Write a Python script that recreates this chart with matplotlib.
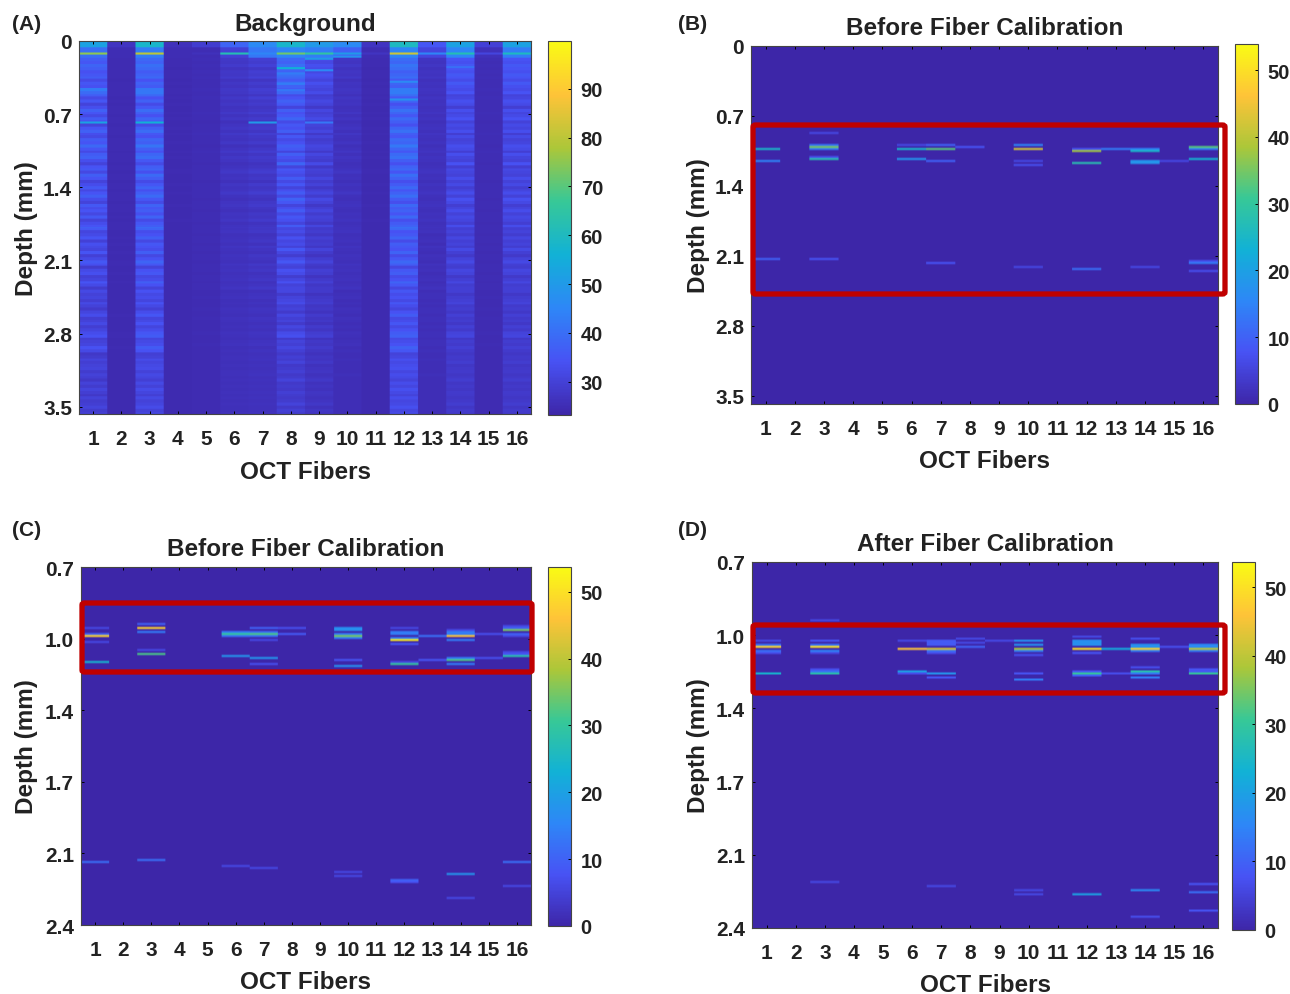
import numpy as np
import matplotlib
matplotlib.use("Agg")
import matplotlib.pyplot as plt
from matplotlib.colors import LinearSegmentedColormap
from matplotlib.patches import FancyBboxPatch

plt.rcParams['font.family'] = ['Liberation Sans', 'DejaVu Sans']
W, H = 1290, 995

parula = LinearSegmentedColormap.from_list('parula', [
    (0.2422, 0.1504, 0.6603), (0.2810, 0.3228, 0.9579), (0.1786, 0.5289, 0.9682),
    (0.0689, 0.6948, 0.8394), (0.2161, 0.7843, 0.5923), (0.6720, 0.7793, 0.2227),
    (0.9970, 0.7659, 0.2199), (0.9769, 0.9839, 0.0805)])

fibers = list(range(1, 17))

# ---------- Panel A: background, per fiber levels and stripe profiles ----------
a_base = [26.5, 24.5, 28, 24.5, 24.8, 25.3, 25.3, 26.5, 25.5, 25, 24.5, 29, 25, 26.5, 24.8, 26.5]
a_amp = [13, 0.4, 14, 0.4, 0.8, 4, 6, 14, 8, 3.5, 0.4, 14, 3, 9, 0.8, 9]
a_group = [0, 0, 0, 2, 2, 2, 2, 1, 1, 2, 2, 0, 2, 1, 2, 1]
a_fade = [1.0, 0.95, 0.9, 0.8, 0.65, 0.5]
stripes_a = [7, 6, 8, 7, 5, 6, 7, 4, 6, 5, 9, 9, 7, 4, 6, 3, 5, 8, 6, 4, 7, 5, 3, 6, 8, 5, 4, 7, 6, 9,
             6, 4, 7, 8, 5, 3, 6, 7, 4, 8, 6, 3, 5, 7, 4, 6, 8, 5, 3, 7, 5, 6, 4, 7, 3, 5, 6, 8, 4, 5,
             7, 3, 6, 5, 4, 7, 3, 5, 8, 6, 2, 5, 6, 3, 4, 7, 5, 2, 6, 4, 5, 3, 6, 4, 2, 5, 7, 3, 4, 6,
             3, 5, 7, 8, 3, 4, 5, 8, 6, 2, 3, 6, 4, 5, 6, 3, 5, 4, 2, 5, 3, 6, 4, 2, 5, 3, 4, 6, 3, 4]
stripes_b = [8, 7, 9, 8, 7, 9, 8, 6, 9, 7, 6, 8, 4, 5, 7, 6, 3, 7, 5, 6, 8, 4, 6, 5, 7, 3, 6, 4, 5, 7,
             6, 3, 7, 5, 4, 8, 3, 6, 5, 4, 7, 4, 6, 3, 5, 7, 4, 8, 6, 3, 5, 7, 4, 6, 5, 3, 7, 4, 5, 3,
             6, 4, 5, 3, 7, 4, 2, 5, 7, 4, 3, 6, 5, 2, 4, 6, 3, 4, 5, 2, 4, 5, 6, 3, 4, 2, 5, 3, 4, 2,
             5, 3, 6, 7, 2, 4, 3, 5, 3, 2, 4, 3, 5, 2, 3, 4, 2, 3, 5, 2, 3, 2, 4, 3, 2, 3, 5, 2, 4, 3]
stripes_c = [6, 5, 7, 4, 6, 5, 7, 3, 5, 4, 6, 5, 3, 6, 4, 5, 3, 4, 6, 3, 5, 2, 4, 5, 3, 6, 4, 3, 5, 2,
             4, 6, 3, 5, 4, 2, 3, 5, 6, 3, 4, 2, 5, 3, 4, 6, 3, 2, 4, 5, 3, 2, 4, 3, 5, 2, 3, 4, 5, 2,
             3, 4, 2, 5, 3, 2, 4, 3, 2, 5, 3, 4, 2, 3, 4, 2, 3, 5, 2, 3, 4, 2, 3, 2, 4, 3, 2, 4, 3, 2,
             3, 2, 4, 3, 2, 3, 4, 2, 3, 2, 3, 4, 2, 3, 2, 3, 4, 2, 3, 2, 3, 2, 3, 2, 3, 2, 3, 2, 2, 3]
a_top = [52, 27, 58, 26, 29, 38, 46, 58, 50, 46, 27, 60, 35, 52, 30, 52]
a_second = [40, 25, 43, 25, 25, 30, 42, 45, 43, 37, 25, 45, 31, 45, 26, 43]
a_line = [75, 25, 80, 25, 26, 62, 45, 72, 65, 50, 27, 82, 45, 62, 31, 60]
a_extra = [(1, 0.45, 43), (1, 0.47, 43), (1, 0.77, 52), (3, 0.77, 56), (7, 0.77, 50), (9, 0.77, 42),
           (8, 0.25, 56), (9, 0.275, 46), (14, 0.24, 40), (12, 0.55, 48), (12, 0.38, 46),
           (8, 0.30, 43), (8, 0.40, 43), (8, 0.47, 42), (10, 0.14, 48), (9, 0.16, 50)]

# ---------- Panels B, C, D: (fiber, depth in mm, intensity) ----------
b_bands = [(1, 1.037, 25), (1, 1.16, 15), (1, 2.13, 10),
           (3, 0.87, 6), (3, 0.99, 13), (3, 1.005, 35), (3, 1.02, 14), (3, 1.11, 7), (3, 1.127, 28), (3, 2.13, 8),
           (6, 0.99, 6), (6, 1.023, 25), (6, 1.137, 18),
           (7, 0.995, 10), (7, 1.02, 33), (7, 1.147, 10), (7, 2.167, 8), (8, 1.017, 8),
           (10, 0.997, 15), (10, 1.03, 42), (10, 1.16, 6), (10, 1.187, 7), (10, 2.21, 6),
           (12, 1.02, 8), (12, 1.04, 14), (12, 1.057, 38), (12, 1.177, 28), (12, 2.227, 12), (13, 1.03, 14),
           (14, 1.025, 15), (14, 1.04, 25), (14, 1.05, 15), (14, 1.15, 18), (14, 1.165, 18), (14, 2.2, 6), (15, 1.147, 6),
           (16, 1.005, 33), (16, 1.02, 14), (16, 1.13, 24), (16, 2.14, 7), (16, 2.167, 14), (16, 2.26, 7)]
c_bands = [(1, 0.994, 6), (1, 1.029, 48), (1, 1.015, 10), (1, 1.053, 6), (1, 1.15, 24),
           (3, 0.967, 10), (3, 0.975, 10), (3, 0.994, 48), (3, 1.01, 14), (3, 1.093, 6), (3, 1.116, 32), (3, 2.087, 12),
           (6, 1.007, 14), (6, 1.017, 30), (6, 1.027, 12), (6, 1.127, 18), (6, 2.12, 6),
           (7, 0.991, 10), (7, 1.004, 12), (7, 1.017, 32), (7, 1.029, 12), (7, 1.042, 6), (7, 1.135, 18), (7, 1.156, 7), (7, 2.125, 6),
           (8, 0.986, 7), (8, 1.017, 9),
           (10, 0.99, 17), (10, 1.0, 17), (10, 1.018, 14), (10, 1.026, 35), (10, 1.036, 14), (10, 1.143, 8), (10, 1.17, 17), (10, 2.144, 6), (10, 2.17, 6),
           (12, 0.99, 6), (12, 1.012, 14), (12, 1.022, 14), (12, 1.034, 14), (12, 1.045, 52), (12, 1.067, 8), (12, 1.15, 6), (12, 1.165, 30), (12, 2.186, 10), (12, 2.195, 8),
           (13, 1.029, 12), (13, 1.143, 8),
           (14, 0.998, 6), (14, 1.01, 14), (14, 1.02, 14), (14, 1.029, 46), (14, 1.045, 14), (14, 1.133, 14), (14, 1.146, 32), (14, 1.16, 14), (14, 2.158, 18), (14, 2.27, 6),
           (15, 1.017, 7), (15, 1.136, 7),
           (16, 0.98, 6), (16, 0.99, 10), (16, 1.002, 35), (16, 1.018, 10), (16, 1.03, 6), (16, 1.1, 6), (16, 1.11, 8), (16, 1.123, 28), (16, 2.1, 12), (16, 2.215, 6),
           (1, 2.097, 12)]
d_bands = [(1, 1.062, 6), (1, 1.085, 12), (1, 1.098, 48), (1, 1.11, 12), (1, 1.122, 7), (1, 1.219, 24),
           (3, 0.973, 6), (3, 1.065, 8), (3, 1.085, 12), (3, 1.098, 50), (3, 1.112, 15), (3, 1.125, 6), (3, 1.195, 7), (3, 1.207, 12), (3, 1.216, 28), (3, 2.19, 6),
           (6, 1.068, 6), (6, 1.1, 46), (6, 1.205, 20), (6, 1.222, 7),
           (7, 1.065, 9), (7, 1.075, 9), (7, 1.085, 9), (7, 1.1, 42), (7, 1.112, 12), (7, 1.125, 7), (7, 1.214, 18), (7, 1.235, 8), (7, 2.21, 6),
           (8, 1.06, 6), (8, 1.076, 6), (8, 1.095, 10), (9, 1.068, 6),
           (10, 1.068, 17), (10, 1.08, 17), (10, 1.1, 38), (10, 1.112, 14), (10, 1.128, 7), (10, 1.217, 8), (10, 1.245, 14), (10, 2.22, 6), (10, 2.247, 6),
           (12, 1.047, 6), (12, 1.065, 17), (12, 1.075, 17), (12, 1.087, 17), (12, 1.1, 50), (12, 1.12, 8), (12, 1.205, 8), (12, 1.219, 30), (12, 1.23, 10), (12, 2.242, 20),
           (13, 1.1, 22), (13, 1.217, 7),
           (14, 1.06, 7), (14, 1.08, 17), (14, 1.09, 17), (14, 1.1, 48), (14, 1.112, 14), (14, 1.19, 7), (14, 1.205, 14), (14, 1.212, 28), (14, 1.222, 14), (14, 1.232, 14), (14, 2.223, 16), (14, 2.344, 7),
           (15, 1.095, 7),
           (16, 1.08, 16), (16, 1.09, 16), (16, 1.103, 40), (16, 1.115, 14), (16, 1.2, 8), (16, 1.21, 8), (16, 1.22, 30), (16, 2.2, 8), (16, 2.233, 12), (16, 2.316, 8)]

panel_titles = ['Background', 'Before Fiber Calibration', 'Before Fiber Calibration', 'After Fiber Calibration']
panel_letters = ['(A)', '(B)', '(C)', '(D)']
depth_ticks_full = [0, 0.7, 1.4, 2.1, 2.8, 3.5]
depth_labels_full = ['0', '0.7', '1.4', '2.1', '2.8', '3.5']
depth_ticks_zoom = [0.7, 1.04, 1.38, 1.72, 2.06, 2.4]
depth_labels_zoom = ['0.7', '1.0', '1.4', '1.7', '2.1', '2.4']


def band_matrix(bands, top, bottom, dy):
    n = int(round((bottom - top) / dy))
    m = np.zeros((n, 16))
    for f, d, v in bands:
        r = int((d - top) / dy)
        if 0 <= r < n:
            m[r, f - 1] = max(m[r, f - 1], v)
    return m


def a_matrix():
    dy = 0.01
    top, bottom = 0.0, 3.57
    n = int(round((bottom - top) / dy))
    m = np.zeros((n, 16))
    groups = [stripes_a, stripes_b, stripes_c]
    step = (bottom - 0.16) / len(stripes_a)
    for r in range(n):
        d = top + r * dy
        k = min(int(d / bottom * len(a_fade)), len(a_fade) - 1)
        for j in range(16):
            if d < 0.06:
                v = a_top[j]
            elif d < 0.16:
                v = a_second[j]
            else:
                s = groups[a_group[j]][min(int((d - 0.16) / step), len(stripes_a) - 1)]
                v = a_base[j] + a_amp[j] * a_fade[k] * s / 9
            m[r, j] = v
    for j in range(16):
        m[int(0.112 / dy):int(0.135 / dy), j] = a_line[j]
    for f, d, v in a_extra:
        m[int(d / dy):int(d / dy) + 2, f - 1] = v
    return m, top, bottom


def px_axes(x0, y0, x1, y1):
    return fig.add_axes([x0 / W, 1 - y1 / H, (x1 - x0) / W, (y1 - y0) / H])


def box(x0, y0, x1, y1):
    fig.add_artist(FancyBboxPatch((x0 / W, 1 - y1 / H), (x1 - x0) / W, (y1 - y0) / H,
                                  boxstyle='round,pad=0,rounding_size=0.002', transform=fig.transFigure,
                                  fill=False, edgecolor='#C00000', linewidth=3.8, zorder=10))


fig = plt.figure(figsize=(W / 100, H / 100), dpi=100)

m_a, ta, ba = a_matrix()
m_b = band_matrix(b_bands, 0.0, 3.58, 0.02)
m_c = band_matrix(c_bands, 0.7, 2.4, 0.0095)
m_d = band_matrix(d_bands, 0.7, 2.4, 0.0095)

panels = [
    dict(m=m_a, top=ta, bot=ba, ax=(79, 42, 531, 415), cb=(548, 42, 571, 416), clim=(23.2, 99.8),
         cticks=[30, 40, 50, 60, 70, 80, 90], yt=depth_ticks_full, yl=depth_labels_full, letter=(12, 24), title_y=25, xl_y=473),
    dict(m=m_b, top=0.0, bot=3.58, ax=(751, 47, 1218, 405), cb=(1235, 45, 1258, 405), clim=(0, 53.9),
         cticks=[0, 10, 20, 30, 40, 50], yt=depth_ticks_full, yl=depth_labels_full, letter=(678, 24), title_y=29, xl_y=462),
    dict(m=m_c, top=0.7, bot=2.4, ax=(81, 568, 531, 926), cb=(548, 568, 571, 927), clim=(0, 53.7),
         cticks=[0, 10, 20, 30, 40, 50], yt=depth_ticks_zoom, yl=depth_labels_zoom, letter=(12, 531), title_y=550, xl_y=983),
    dict(m=m_d, top=0.7, bot=2.4, ax=(752, 563, 1218, 929), cb=(1232, 563, 1255, 931), clim=(0, 53.7),
         cticks=[0, 10, 20, 30, 40, 50], yt=depth_ticks_zoom, yl=depth_labels_zoom, letter=(678, 531), title_y=545, xl_y=986),
]

for i, p in enumerate(panels):
    ax = px_axes(*p['ax'])
    # repeating columns keeps the smoothing to the fiber edges and along depth
    im = ax.imshow(np.repeat(p['m'], 30, axis=1), cmap=parula, vmin=p['clim'][0], vmax=p['clim'][1], aspect='auto',
                   interpolation='bilinear', extent=[0.5, 16.5, p['bot'], p['top']])
    ax.set_xticks(fibers)
    ax.set_xticklabels([str(f) for f in fibers], fontsize=15, fontweight='bold', color='#222222')
    ax.set_yticks(p['yt'])
    ax.set_yticklabels(p['yl'], fontsize=15, fontweight='bold', color='#222222')
    ax.tick_params(axis='x', direction='in', length=2.5, width=0.7, top=True, bottom=True, pad=11)
    ax.tick_params(axis='y', direction='in', length=2.5, width=0.7, left=True, right=True, pad=5)
    for s in ax.spines.values():
        s.set_linewidth(0.8)
        s.set_color('#444444')
    x0, y0, x1, y1 = p['ax']
    ax.set_title(panel_titles[i], fontsize=17.5, fontweight='bold', color='#222222',
                 y=1 + (y0 - p['title_y']) / (y1 - y0), va='center', pad=0)
    ax.set_xlabel('OCT Fibers', fontsize=17.5, fontweight='bold', color='#222222')
    ax.xaxis.set_label_coords(0.5, -(p['xl_y'] - y1) / (y1 - y0))
    ax.xaxis.label.set_va('center')
    ax.set_ylabel('Depth (mm)', fontsize=17.5, fontweight='bold', color='#222222')
    ax.yaxis.set_label_coords(-(x0 - (26 if i in (0, 2) else 698)) / (x1 - x0), 0.5)
    ax.yaxis.label.set_va('center')
    cax = px_axes(*p['cb'])
    cb = fig.colorbar(im, cax=cax)
    cb.set_ticks(p['cticks'])
    cb.ax.tick_params(direction='in', length=2.5, width=0.7, labelsize=14.5, pad=7, labelcolor='#222222')
    for lab in cb.ax.get_yticklabels():
        lab.set_fontweight('bold')
    cb.outline.set_linewidth(0.8)
    cb.outline.set_edgecolor('#444444')
    fig.text(p['letter'][0] / W, 1 - p['letter'][1] / H, panel_letters[i], fontsize=15, fontweight='bold',
             color='#222222', va='center', ha='left')

box(753, 126, 1225, 295)
box(82, 604, 532, 673)
box(753, 626, 1225, 694)

fig.savefig('out.png', dpi=100)
